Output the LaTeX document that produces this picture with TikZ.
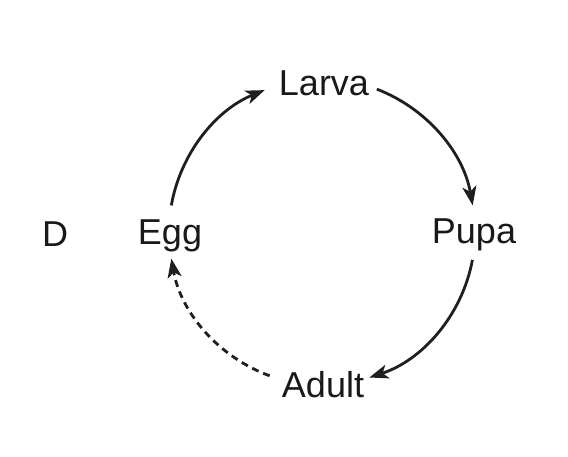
\documentclass[tikz,border=0pt]{standalone}
\usepackage{fontspec}
\setmainfont{Liberation Sans}
\usetikzlibrary{arrows.meta}
\begin{document}
\begin{tikzpicture}[x=1pt,y=1pt,
  lbl/.style={inner sep=0pt,font=\fontsize{36}{40}\selectfont,text=black!90},
  cyc/.style={line width=2.8pt,draw=black!88,-{Stealth[length=19pt,width=14pt,inset=5pt]}},
  dsh/.style={cyc,dash pattern=on 7pt off 5pt}]
\useasboundingbox (0,0) rectangle (568,457);
\coordinate (c) at (322,225);
\node[lbl] (d) at (55,223) {D};
\node[lbl] (egg) at (170,221) {Egg};
\node[lbl] (larva) at (324,374) {Larva};
\node[lbl] (pupa) at (474,222) {Pupa};
\node[lbl] (adult) at (323,72) {Adult};
\draw[cyc] ([shift={(170:153)}]c) coordinate (e1) arc[start angle=170,end angle=112,radius=153] coordinate (e2);
\draw[cyc] ([shift={(69:153)}]c) coordinate (l1) arc[start angle=69,end angle=10,radius=153] coordinate (l2);
\draw[cyc] ([shift={(-10.5:153)}]c) coordinate (p1) arc[start angle=-10.5,end angle=-72,radius=153] coordinate (p2);
\draw[dsh] ([shift={(-110:153)}]c) coordinate (a1) arc[start angle=-110,end angle=-170,radius=153] coordinate (a2);
\end{tikzpicture}
\end{document}
